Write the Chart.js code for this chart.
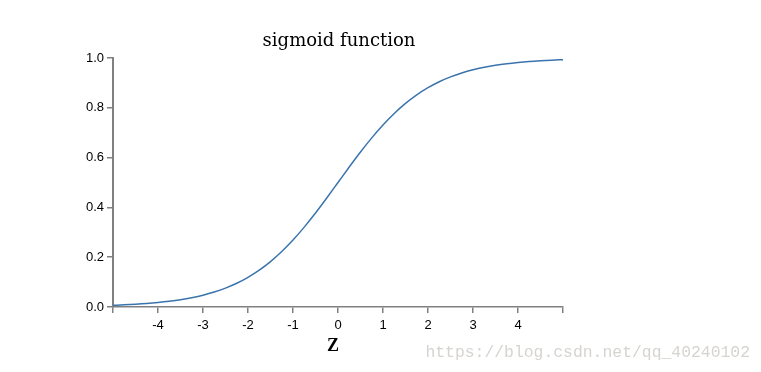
<!DOCTYPE html>
<html>
<head>
<meta charset="utf-8">
<script src="https://cdn.jsdelivr.net/npm/chart.js@4/dist/chart.umd.min.js"></script>
<style>
  html, body { margin: 0; padding: 0; background: #fff; }
  #wrap { width: 761px; height: 372px; position: relative; }
</style>
</head>
<body>
<div id="wrap"><canvas id="chart" width="761" height="372"></canvas></div>
<script>
// z values along the x axis
var zValues = [-5, -4.75, -4.5, -4.25, -4, -3.75, -3.5, -3.25, -3, -2.75, -2.5, -2.25, -2, -1.75, -1.5, -1.25, -1, -0.75, -0.5, -0.25,
    0, 0.25, 0.5, 0.75, 1, 1.25, 1.5, 1.75, 2, 2.25, 2.5, 2.75, 3, 3.25, 3.5, 3.75, 4, 4.25, 4.5, 4.75, 5];
// sigmoid values
var sigValues = [0.0067, 0.0086, 0.0110, 0.0140, 0.0180, 0.0230, 0.0293, 0.0374, 0.0474, 0.0601, 0.0759, 0.0953, 0.1192, 0.1480, 0.1824, 0.2227, 0.2689, 0.3208, 0.3775, 0.4378,
    0.5, 0.5622, 0.6225, 0.6792, 0.7311, 0.7773, 0.8176, 0.8520, 0.8808, 0.9047, 0.9241, 0.9399, 0.9526, 0.9626, 0.9707, 0.9770, 0.9820, 0.9860, 0.9890, 0.9914, 0.9933];
var xTicks = [-4, -3, -2, -1, 0, 1, 2, 3, 4];
var yTicks = [0, 0.2, 0.4, 0.6, 0.8, 1.0];

var points = zValues.map(function (z, i) { return {x: z, y: sigValues[i]}; });

var axisGray = '#808080';
var tickFont = {family: '"Liberation Sans", Arial, sans-serif', size: 13};

var textPlugin = {
    id: 'texts',
    afterDraw: function (chart) {
        var ctx = chart.ctx;
        ctx.save();
        ctx.textAlign = 'center';
        ctx.textBaseline = 'alphabetic';
        ctx.fillStyle = '#000';
        ctx.font = '18px "DejaVu Serif", "Liberation Serif", serif';
        ctx.fillText('sigmoid function', 339, 46);
        ctx.font = 'bold 18px "Liberation Serif", serif';
        ctx.fillText('Z', 333, 351);
        ctx.textAlign = 'right';
        ctx.fillStyle = '#d6d4d0';
        ctx.font = '16.4px "Liberation Mono", "DejaVu Sans Mono", monospace';
        ctx.fillText('https://blog.csdn.net/qq_40240102', 750, 357);
        ctx.restore();
    }
};

new Chart(document.getElementById('chart'), {
    type: 'line',
    data: {
        datasets: [{
            data: points,
            borderColor: '#3a74ad',
            borderWidth: 1.5,
            pointRadius: 0,
            fill: false,
            cubicInterpolationMode: 'monotone'
        }]
    },
    options: {
        responsive: false,
        animation: false,
        layout: {padding: {left: 0, top: 58, right: 198, bottom: 0}},
        plugins: {legend: {display: false}, tooltip: {enabled: false}, title: {display: false}},
        scales: {
            x: {
                type: 'linear',
                min: -5,
                max: 5,
                afterFit: function (s) { s.height = 65; },
                afterBuildTicks: function (s) {
                    s.ticks = [-5].concat(xTicks, [5]).map(function (v) { return {value: v}; });
                },
                ticks: {
                    color: '#000',
                    font: tickFont,
                    padding: 5,
                    maxRotation: 0,
                    autoSkip: false,
                    callback: function (v) { return xTicks.indexOf(v) >= 0 ? String(v) : ''; }
                },
                grid: {drawOnChartArea: false, color: axisGray, tickLength: 6, lineWidth: 1.5},
                border: {color: axisGray, width: 1.5}
            },
            y: {
                min: 0,
                max: 1,
                afterFit: function (s) { s.width = 113; },
                afterBuildTicks: function (s) {
                    s.ticks = yTicks.map(function (v) { return {value: v}; });
                },
                ticks: {
                    color: '#000',
                    font: tickFont,
                    padding: 3,
                    callback: function (v) { return v.toFixed(1); }
                },
                grid: {drawOnChartArea: false, color: axisGray, tickLength: 6, lineWidth: 1.5},
                border: {color: axisGray, width: 2}
            }
        }
    },
    plugins: [textPlugin]
});
</script>
</body>
</html>
